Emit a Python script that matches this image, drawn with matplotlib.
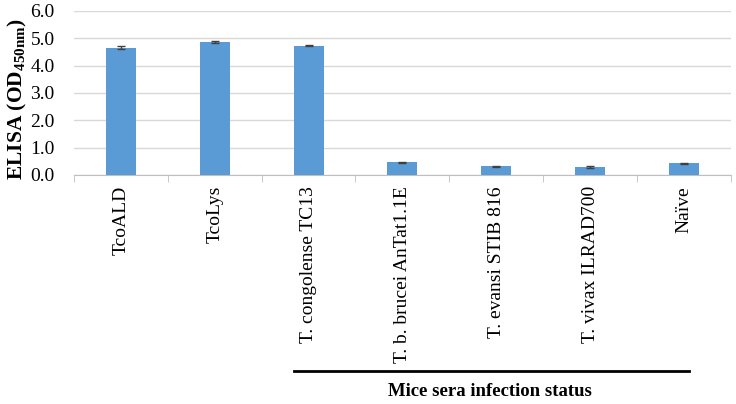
import matplotlib
matplotlib.use("Agg")
import matplotlib.pyplot as plt
import matplotlib.transforms as mtransforms

categories = ["TcoALD", "TcoLys", "T. congolense TC13", "T. b. brucei AnTat1.1E",
              "T. evansi STIB 816", "T. vivax ILRAD700", "Naïve"]
values = [4.66, 4.85, 4.72, 0.47, 0.31, 0.29, 0.42]
errors = [0.04, 0.04, 0.02, 0.02, 0.02, 0.04, 0.02]
yticks = [0.0, 1.0, 2.0, 3.0, 4.0, 5.0, 6.0]

plt.rcParams["font.family"] = ["Liberation Serif", "DejaVu Serif"]
plt.rcParams["mathtext.fontset"] = "custom"
plt.rcParams["mathtext.rm"] = "Liberation Serif"
plt.rcParams["mathtext.bf"] = "Liberation Serif:bold"

fig = plt.figure(figsize=(7.36, 4.04), dpi=100)
ax = fig.add_axes([0.1005, 0.567, 0.8925, 0.406])

x = range(len(categories))
ax.bar(x, values, width=0.32, color="#5B9BD5", zorder=3,
       yerr=errors, error_kw=dict(ecolor="#404040", elinewidth=1, capsize=3, capthick=1))

ax.set_xlim(-0.5, len(categories) - 0.5)
ax.set_ylim(0, 6)
ax.set_yticks(yticks)
ax.set_yticklabels([f"{t:.1f}" for t in yticks], fontsize=14)
ax.yaxis.grid(True, color="#d9d9d9", linewidth=1, zorder=0)
ax.tick_params(axis="y", length=0, pad=14)

ax.set_xticks(list(x))
ax.set_xticklabels(categories, rotation=90, fontsize=14)
ax.tick_params(axis="x", length=0, pad=8)
ax.set_xticks([i - 0.5 for i in range(len(categories) + 1)], minor=True)
ax.tick_params(axis="x", which="minor", length=5, color="#bfbfbf", direction="out")

for s in ["top", "right", "left"]:
    ax.spines[s].set_visible(False)
ax.spines["bottom"].set_color("#bfbfbf")

ax.set_ylabel("ELISA (OD$_{\\mathbf{450nm}}$)", fontsize=15.5, fontweight="bold")
ax.yaxis.set_label_coords(-0.069, 0.46)

# group line and label under the rotated category names
trans = mtransforms.blended_transform_factory(ax.transData, fig.transFigure)
ax.plot([1.84, 6.05], [(404 - 370.5) / 404] * 2, color="black", linewidth=2,
        transform=trans, clip_on=False)
ax.text(3.93, (404 - 392) / 404, "Mice sera infection status", transform=trans,
        ha="center", va="center", fontsize=13.5, fontweight="bold")

fig.savefig("out.png", dpi=100)
